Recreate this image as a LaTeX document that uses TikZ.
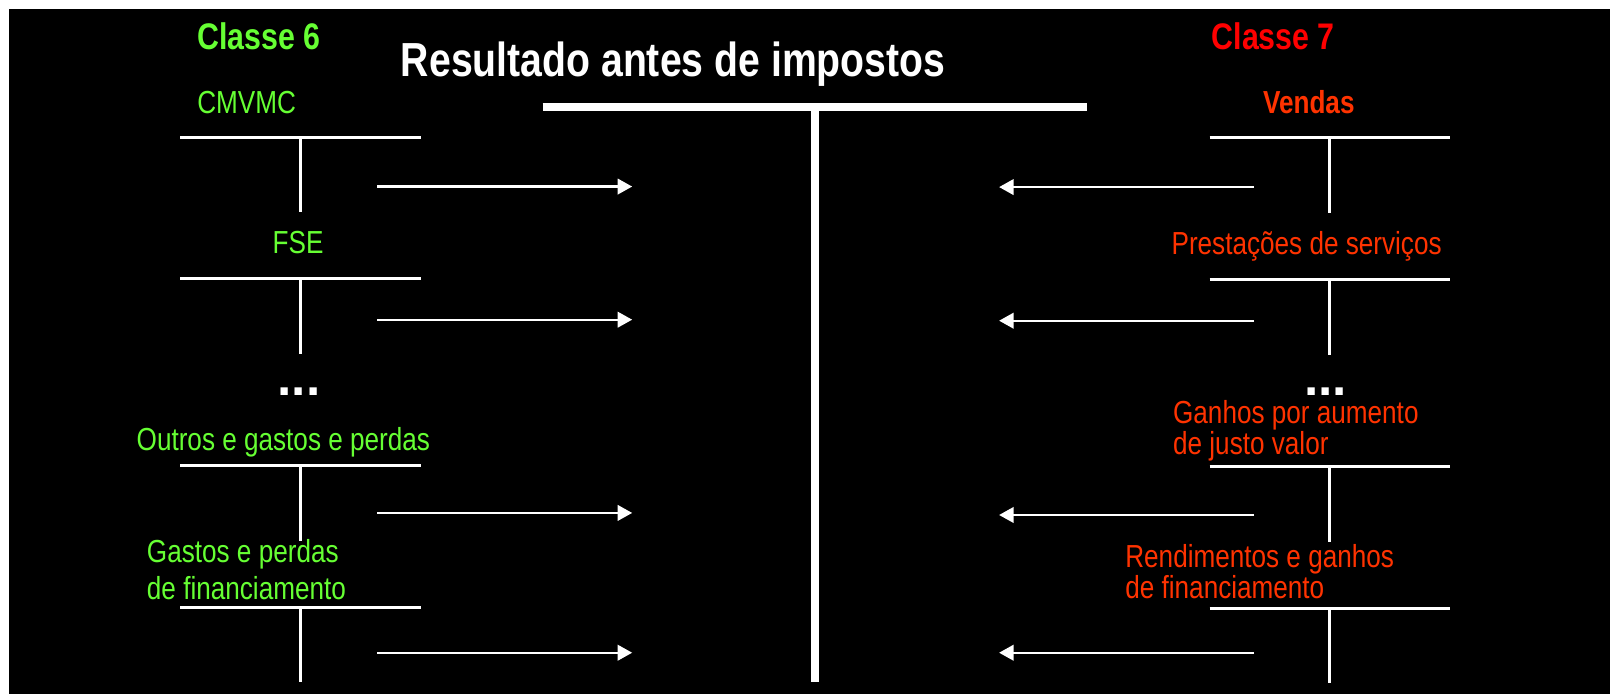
\documentclass[tikz,border=0pt]{standalone}
\usepackage{fontspec}
\setmainfont{Liberation Sans}[FakeStretch=0.82]
\newfontfamily\dotfont{Liberation Sans}
\usetikzlibrary{arrows.meta}
\definecolor{grn}{HTML}{66FF33}
\definecolor{redc}{HTML}{FF0000}
\definecolor{orn}{HTML}{FF3300}
\begin{document}
\begin{tikzpicture}[x=1pt,y=-1pt,scale=1.0277,every node/.append style={transform shape},
  txt/.style={inner sep=0pt, outer sep=0pt},
  lblg/.style={txt, text=grn, font=\fontsize{31}{28}\selectfont},
  lblr/.style={txt, text=orn, font=\fontsize{31}{28}\selectfont},
  dotlbl/.style={txt, text=white, font=\dotfont\bfseries\fontsize{50}{50}\selectfont},
  tline/.style={draw=white, line width=3pt},
  bigline/.style={draw=white, line width=7.8pt},
  flow/.style={draw=white, line width=2.3pt, -{Triangle[length=14.5pt,width=15.5pt]}},
  tacc/.pic={\draw[tline] (-117,0) -- (117,0); \draw[tline] (0,0) -- (0,73);}
]
\useasboundingbox (0,0) rectangle (1566.6,675.3);
\fill[white] (0,0) rectangle (1566.6,675.3);
\fill[black] (9,9) rectangle (1566.6,675.3);

% big T
\draw[bigline] (528,104) -- (1058,104);
\draw[bigline] (793,104) -- (793,664);

% headings
\node[txt, text=white, font=\bfseries\fontsize{46.5}{50}\selectfont, anchor=base] (title) at (655,74) {Resultado antes de impostos};
\node[txt, text=grn, font=\bfseries\fontsize{36}{40}\selectfont, anchor=base] (c6) at (252,48) {Classe 6};
\node[txt, text=redc, font=\bfseries\fontsize{36}{40}\selectfont, anchor=base] (c7) at (1239,48) {Classe 7};

% left accounts
\pic at (292.5,133.5) {tacc};
\pic at (292.5,271) {tacc};
\pic at (292.5,453) {tacc};
\pic at (292.5,591) {tacc};
% right accounts
\pic at (1294,134) {tacc};
\pic at (1294,272) {tacc};
\pic at (1294,454) {tacc};
\pic at (1294,592) {tacc};

% left labels
\node[lblg, anchor=base west] (cmvmc) at (192,110) {CMVMC};
\node[lblg, anchor=base] (fse) at (290,247) {FSE};
\node[dotlbl, anchor=base] (dotsl) at (291,384.5) {...};
\node[lblg, anchor=base west] (outros) at (133,438.6) {Outros e gastos e perdas};
\node[lblg, anchor=base west, align=left, font=\fontsize{31}{36.5}\selectfont] (gastos) at (143,583.5) {Gastos e perdas\\de financiamento};

% right labels
\node[txt, text=orn, font=\bfseries\fontsize{31}{28}\selectfont, anchor=base] (vendas) at (1273.5,110) {Vendas};
\node[lblr, anchor=base west] (prest) at (1140,248) {Prestações de serviços};
\node[dotlbl, anchor=base] (dotsr) at (1290,385) {...};
\node[lblr, anchor=base west, align=left] (ganhos) at (1141.5,442.3) {Ganhos por aumento\\de justo valor};
\node[lblr, anchor=base west, align=left] (rend) at (1095,582) {Rendimentos e ganhos\\de financiamento};

% arrows
\foreach \i/\y in {1/181.5,2/311,3/499,4/635}{
  \coordinate (ls\i) at (367,\y);
  \coordinate (le\i) at (615,\y);
  \draw[flow] (ls\i) -- (le\i);
}
\foreach \i/\y in {1/182,2/312,3/501,4/635}{
  \coordinate (rs\i) at (1220,\y);
  \coordinate (re\i) at (972,\y);
  \draw[flow] (rs\i) -- (re\i);
}
\end{tikzpicture}
\end{document}
